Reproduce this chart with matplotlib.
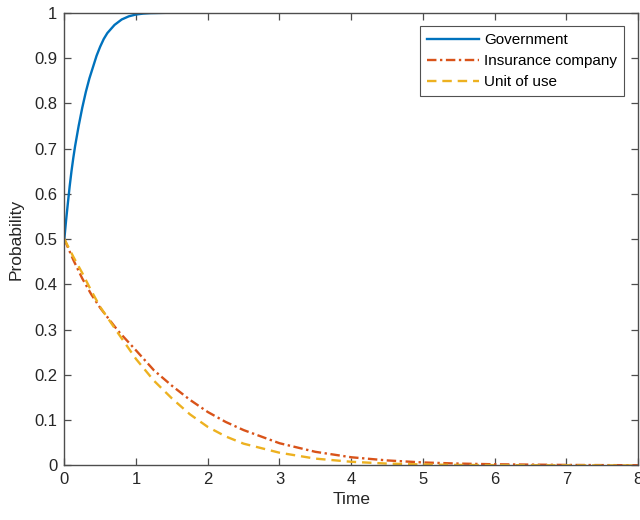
import matplotlib
matplotlib.use("Agg")
import matplotlib.pyplot as plt

plt.rcParams['font.family'] = ['Liberation Sans', 'DejaVu Sans']

# values
t_gov = [0, 0.025, 0.05, 0.075, 0.1, 0.125, 0.15, 0.2, 0.25, 0.3, 0.35, 0.4, 0.45, 0.5, 0.55, 0.6,
         0.7, 0.8, 0.9, 1.0, 1.1, 1.2, 1.35, 1.5, 2, 8]
gov = [0.5, 0.542, 0.58, 0.617, 0.65, 0.679, 0.705, 0.75, 0.79, 0.825, 0.855, 0.88, 0.905, 0.925,
       0.942, 0.955, 0.973, 0.985, 0.992, 0.996, 0.998, 0.999, 0.9995, 1.0, 1.0, 1.0]

t_low = [0, 0.125, 0.25, 0.375, 0.5, 0.75, 1.0, 1.25, 1.5, 1.75, 2.0, 2.25, 2.5, 3.0, 3.5, 4.0,
         4.5, 5.0, 5.5, 6.0, 7.0, 8.0]
insurance = [0.5, 0.454, 0.413, 0.378, 0.348, 0.297, 0.254, 0.21, 0.176, 0.145, 0.118, 0.096,
             0.078, 0.049, 0.030, 0.018, 0.011, 0.0065, 0.004, 0.0025, 0.001, 0.0003]
unit_use = [0.5, 0.461, 0.425, 0.386, 0.35, 0.292, 0.235, 0.187, 0.148, 0.113, 0.085, 0.064,
            0.048, 0.028, 0.015, 0.008, 0.004, 0.002, 0.001, 0.0006, 0.0002, 0.0]

x_ticks = list(range(0, 9))
y_ticks = [i / 10 for i in range(11)]
y_labels = ['0', '0.1', '0.2', '0.3', '0.4', '0.5', '0.6', '0.7', '0.8', '0.9', '1']

fig = plt.figure(figsize=(6.4, 5.2), dpi=100)
ax = fig.add_axes([0.1005, 0.105, 0.8965, 0.8706])

ax.plot(t_gov, gov, color='#0072BD', lw=1.7, label='Government', zorder=3)
ax.plot(t_low, insurance, color='#D95319', lw=1.7, linestyle=(0, (4, 1.5, 1, 1.5)),
        label='Insurance company', zorder=3)
ax.plot(t_low, unit_use, color='#EDB120', lw=1.7, linestyle=(0, (4, 2.5)),
        label='Unit of use', zorder=3)

ax.set_xlim(0, 8)
ax.set_ylim(0, 1)
ax.set_xticks(x_ticks)
ax.set_xticklabels([str(v) for v in x_ticks])
ax.set_yticks(y_ticks)
ax.set_yticklabels(y_labels)

for s in ax.spines.values():
    s.set_color('#4d4d4d')
    s.set_linewidth(1.0)
    s.set_zorder(4)
ax.tick_params(direction='in', length=5, width=0.9, color='#4d4d4d',
               top=True, right=True, labelsize=12, labelcolor='#262626', pad=5)

ax.set_xlabel('Time', fontsize=12.5, color='#262626', labelpad=3)
ax.set_ylabel('Probability', fontsize=12.5, color='#262626', labelpad=8)

leg = ax.legend(loc='upper right', fontsize=11, handlelength=3.4, frameon=True, fancybox=False,
                borderaxespad=0.9, borderpad=0.45, labelspacing=0.45, handletextpad=0.35)
leg.get_frame().set_edgecolor('#262626')
leg.get_frame().set_linewidth(0.8)

fig.savefig('out.png', dpi=100)
